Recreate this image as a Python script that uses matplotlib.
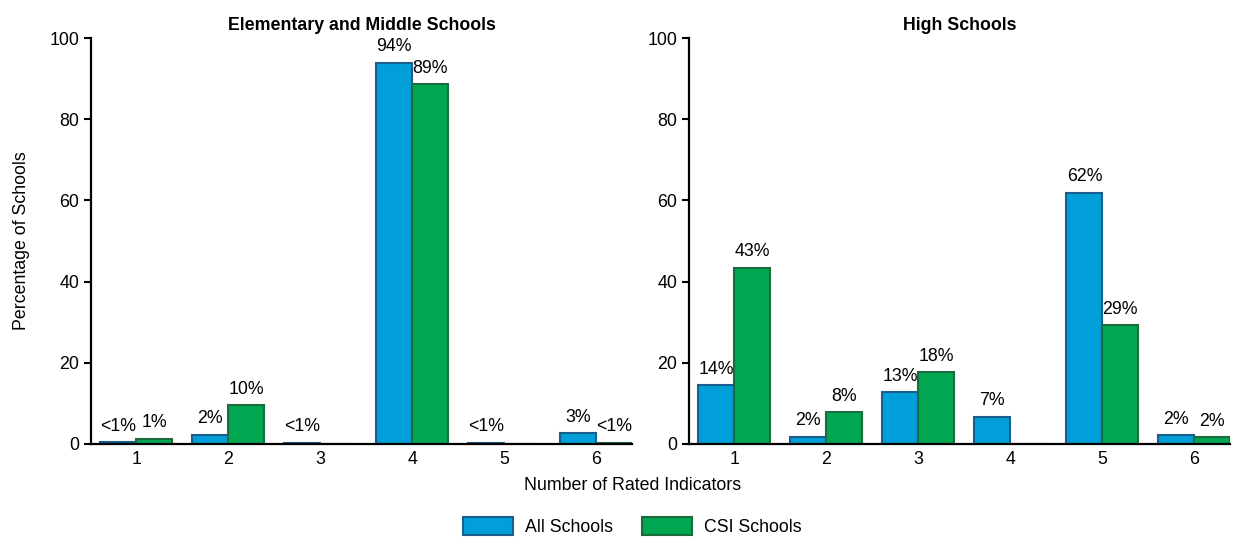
import matplotlib
import numpy as np

matplotlib.use("Agg")
import matplotlib.pyplot as plt

plt.rcParams["font.family"] = ["Liberation Sans", "DejaVu Sans"]

indicators = [1, 2, 3, 4, 5, 6]

# Elementary and Middle Schools
em_all = [0.5, 2.3, 0.3, 94.0, 0.3, 2.6]
em_csi = [1.3, 9.5, 0.0, 88.7, 0.0, 0.3]
em_all_lbl = ["<1%", "2%", "<1%", "94%", "<1%", "3%"]
em_csi_lbl = ["1%", "10%", "", "89%", "", "<1%"]

# High Schools
hs_all = [14.5, 1.8, 12.7, 6.7, 61.9, 2.2]
hs_csi = [43.4, 7.9, 17.7, 0.0, 29.2, 1.6]
hs_all_lbl = ["14%", "2%", "13%", "7%", "62%", "2%"]
hs_csi_lbl = ["43%", "8%", "18%", "", "29%", "2%"]

BLUE, BLUE_EDGE = "#009fda", "#1b5e8c"
GREEN, GREEN_EDGE = "#00a650", "#1c6b3c"
FS = 12.8


def panel(ax, all_v, csi_v, all_l, csi_l, title):
    x = np.array(indicators)
    w = 0.39
    b1 = ax.bar(x - w / 2, all_v, w, color=BLUE, edgecolor=BLUE_EDGE,
                linewidth=1.5, label="All Schools")
    b2 = ax.bar(x + w / 2, csi_v, w, color=GREEN, edgecolor=GREEN_EDGE,
                linewidth=1.5, label="CSI Schools")
    for bars, labels in ((b1, all_l), (b2, csi_l)):
        for b, t in zip(bars, labels):
            if t:
                ax.text(b.get_x() + b.get_width() / 2, b.get_height() + 1.8, t,
                        ha="center", va="bottom", fontsize=FS)
    ax.set_xlim(0.51, 6.39)
    ax.set_ylim(0, 100)
    ax.set_xticks(x)
    ax.set_yticks(range(0, 101, 20))
    ax.tick_params(axis="x", length=0, labelsize=FS, pad=5)
    ax.tick_params(axis="y", length=5, width=1.5, labelsize=FS, direction="out")
    for s in ("top", "right"):
        ax.spines[s].set_visible(False)
    for s in ("left", "bottom"):
        ax.spines[s].set_linewidth(1.6)
    ax.set_title(title, fontsize=FS, fontweight="bold", pad=6)
    return b1, b2


fig = plt.figure(figsize=(12.33, 5.38), dpi=100)
ax1 = fig.add_axes([0.0738, 0.175, 0.439, 0.754])
ax2 = fig.add_axes([0.5588, 0.175, 0.439, 0.754])

h1, h2 = panel(ax1, em_all, em_csi, em_all_lbl, em_csi_lbl,
               "Elementary and Middle Schools")
panel(ax2, hs_all, hs_csi, hs_all_lbl, hs_csi_lbl, "High Schools")

ax1.set_ylabel("Percentage of Schools", fontsize=FS, labelpad=14)
fig.text(0.513, 0.098, "Number of Rated Indicators", ha="center", va="center",
         fontsize=FS)
fig.legend([h1, h2], ["All Schools", "CSI Schools"], loc="center",
           bbox_to_anchor=(0.513, 0.022), ncol=2, frameon=False, fontsize=FS,
           handlelength=2.8, handleheight=1.2, handletextpad=0.7,
           columnspacing=1.6)

fig.savefig("out.png", dpi=100)
